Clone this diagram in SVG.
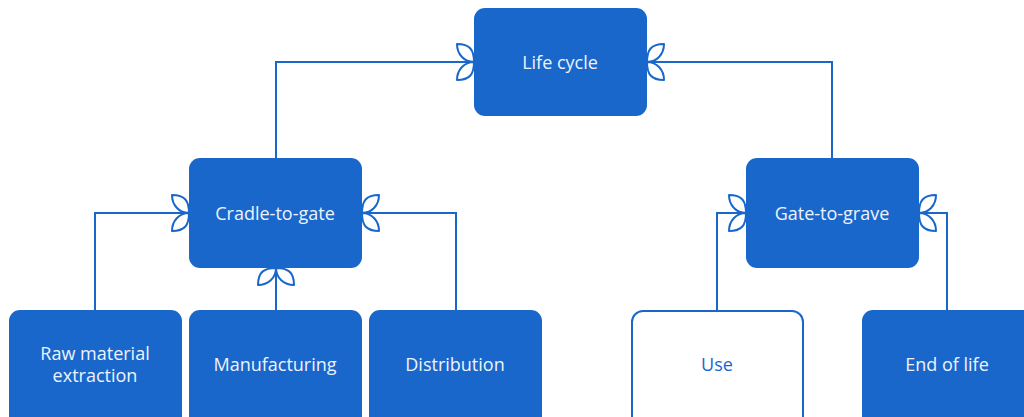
<svg xmlns="http://www.w3.org/2000/svg" width="1024" height="417" viewBox="0 0 1024 417">
<style>
.n{fill:#1967CB;}
.o{fill:#ffffff;stroke:#1967CB;stroke-width:2;}
.t{font-family:"Open Sans","Liberation Sans",sans-serif;font-size:18px;fill:#eef3fb;text-anchor:middle;dominant-baseline:central;}
.tb{fill:#1967CB;}
.c{fill:none;stroke:#1967CB;stroke-width:2;}
</style>
<defs>
<marker id="leaf" markerUnits="userSpaceOnUse" markerWidth="40" markerHeight="44" viewBox="-20 -22 40 44" refX="0" refY="0" orient="auto" overflow="visible">
<path d="M0,0 C0,-12 -4,-18 -17,-18 C-17,-8 -10,0 0,0 Z M0,0 C0,12 -4,18 -17,18 C-17,8 -10,0 0,0 Z" fill="#ffffff" stroke="#1967CB" stroke-width="2" stroke-linejoin="round"/>
</marker>
</defs>
<g id="connectors">
<path class="c" d="M276,158 V62 H474" marker-end="url(#leaf)"/>
<path class="c" d="M832,158 V62 H647" marker-end="url(#leaf)"/>
<path class="c" d="M95,310 V213 H189" marker-end="url(#leaf)"/>
<path class="c" d="M276,310 V268" marker-end="url(#leaf)"/>
<path class="c" d="M456,310 V213 H362" marker-end="url(#leaf)"/>
<path class="c" d="M717,310 V213 H746" marker-end="url(#leaf)"/>
<path class="c" d="M947,310 V213 H919" marker-end="url(#leaf)"/>
</g>
<g id="life-cycle"><rect class="n" x="474" y="8" width="173" height="108" rx="11"/><text class="t" x="560" y="62">Life cycle</text></g>
<g id="cradle-to-gate"><rect class="n" x="189" y="158" width="173" height="110" rx="11"/><text class="t" x="275" y="213">Cradle-to-gate</text></g>
<g id="gate-to-grave"><rect class="n" x="746" y="158" width="173" height="110" rx="11"/><text class="t" x="832" y="213">Gate-to-grave</text></g>
<g id="raw-material"><rect class="n" x="9" y="310" width="173" height="120" rx="11"/><text class="t" x="95" y="353">Raw material</text><text class="t" x="95" y="375">extraction</text></g>
<g id="manufacturing"><rect class="n" x="189" y="310" width="173" height="120" rx="11"/><text class="t" x="275" y="364">Manufacturing</text></g>
<g id="distribution"><rect class="n" x="369" y="310" width="173" height="120" rx="11"/><text class="t" x="455" y="364">Distribution</text></g>
<g id="use"><rect class="o" x="632" y="311" width="171" height="118" rx="11"/><text class="t tb" x="717" y="364">Use</text></g>
<g id="end-of-life"><rect class="n" x="862" y="310" width="173" height="120" rx="11"/><text class="t" x="947" y="364">End of life</text></g>
</svg>
